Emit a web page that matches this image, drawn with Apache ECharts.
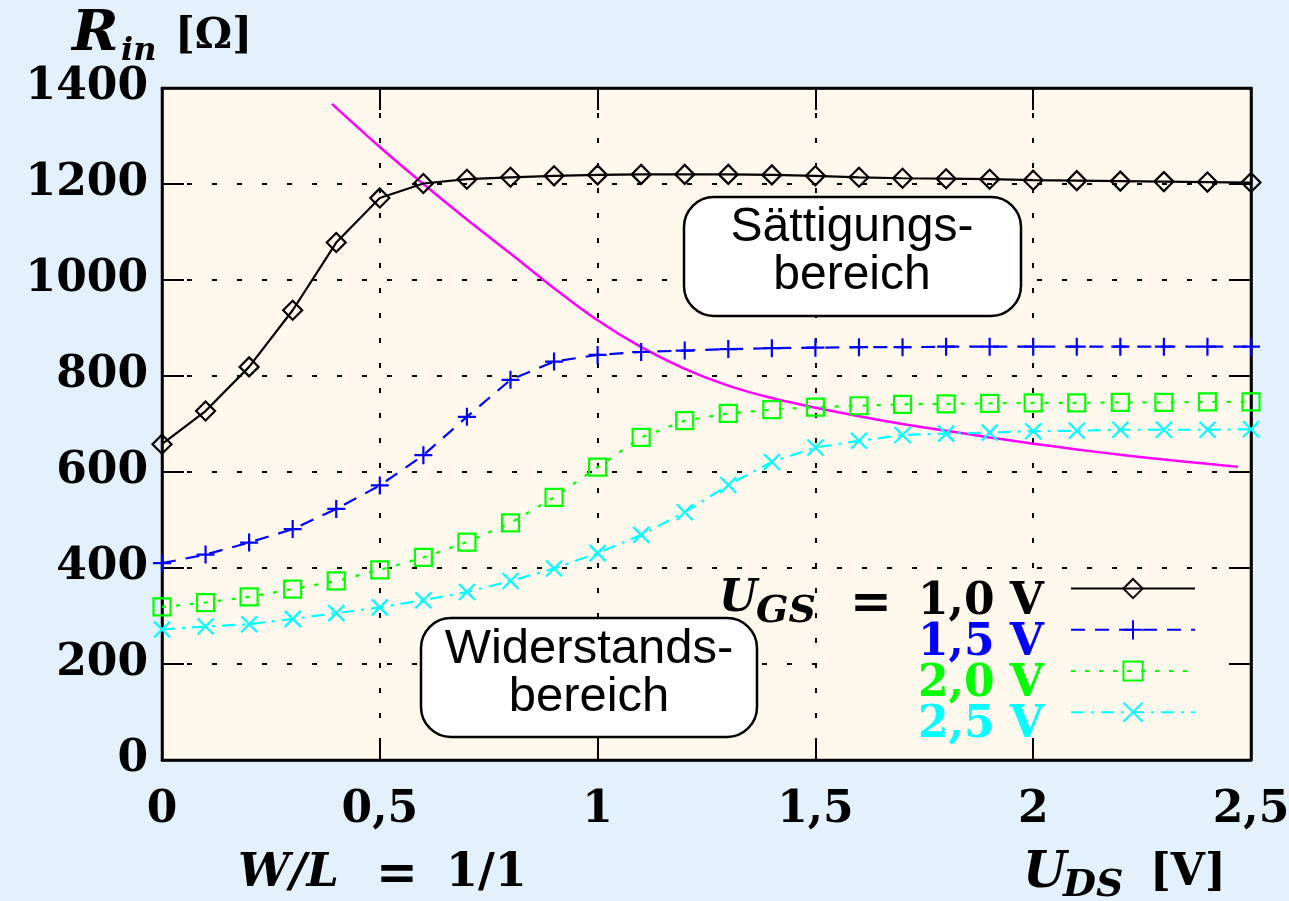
<!DOCTYPE html>
<html>
<head>
<meta charset="utf-8">
<script src="https://cdn.jsdelivr.net/npm/echarts@6/dist/echarts.min.js"></script>
<style>
  html, body { margin: 0; padding: 0; background: #e3f1fc; }
  #chart { width: 1289px; height: 901px; }
</style>
</head>
<body>
<div id="chart"></div>
<script>
// Drain-source voltage U_DS [V] at which R_in was evaluated
const uds = [0, 0.1, 0.2, 0.3, 0.4, 0.5, 0.6, 0.7, 0.8, 0.9, 1.0, 1.1, 1.2,
             1.3, 1.4, 1.5, 1.6, 1.7, 1.8, 1.9, 2.0, 2.1, 2.2, 2.3, 2.4, 2.5];

// Input resistance R_in [Ohm] for each gate-source voltage
const rinUgs10 = [658, 727, 819, 937, 1078, 1171, 1201, 1210, 1214, 1217, 1219, 1220, 1220,
                  1220, 1219, 1217, 1214, 1212, 1211, 1210, 1208, 1207, 1206, 1205, 1204, 1203];
const rinUgs15 = [410, 428, 453, 481, 523, 572, 635, 715, 792, 830, 844, 850, 853,
                  856, 858, 859, 860, 860, 861, 861, 861, 861, 861, 861, 861, 861];
const rinUgs20 = [319, 328, 340, 356, 373, 396, 422, 454, 494, 547, 610, 672, 707,
                  722, 730, 735, 738, 741, 742, 743, 744, 744, 745, 745, 746, 746];
const rinUgs25 = [272, 278, 283, 294, 306, 318, 333, 350, 373, 399, 431, 469, 516,
                  573, 621, 651, 665, 677, 680, 682, 685, 686, 688, 688, 688, 689];

// Boundary between the resistive and the saturation region
const boundaryUds = [0.39, 0.5, 0.6, 0.7, 0.8, 0.9, 1.0, 1.1, 1.2, 1.3, 1.4,
                     1.5, 1.6, 1.7, 1.8, 1.9, 2.0, 2.1, 2.2, 2.3, 2.4, 2.47];
const boundaryRin = [1367, 1277, 1200, 1126, 1055, 983, 916, 860, 815, 780, 754,
                     734, 716, 700, 686, 672, 659, 647, 636, 626, 617, 611];

// Axis ranges and tick steps
const xRange = [0, 2.5], xStep = 0.5;
const yRange = [0, 1400], yStep = 200;

// Gate-source voltages shown in the key, with their colours
const ugsLabels = ['1,0 V', '1,5 V', '2,0 V', '2,5 V'];
const ugsColors = ['#000000', '#0000ff', '#00ff00', '#00ffff'];

const SERIF = '"DejaVu Serif", serif';
const SANS = '"Liberation Sans", Arial, sans-serif';
const PLOT_BG = '#fef9ec';
const PAGE_BG = '#e3f1fc';

const plusPath = 'path://M0,9H18M9,0V18';
const crossPath = 'path://M0,0L18,18M0,18L18,0';

function pairs(xs, ys) { return xs.map((x, i) => [x, ys[i]]); }

function curve(idx, ys, dash, symbol, size) {
  const color = ugsColors[idx];
  return {
    name: ugsLabels[idx], type: 'line', data: pairs(uds, ys),
    symbol: symbol, symbolSize: size, showSymbol: true,
    itemStyle: { color: 'transparent', borderColor: color, borderWidth: 2.2 },
    lineStyle: { color: color, width: 2.2, type: dash },
    emphasis: { disabled: true }, z: 3, silent: true
  };
}

const chart = echarts.init(document.getElementById('chart'), null, { renderer: 'canvas' });

const numLabel = { fontFamily: SERIF, fontWeight: 'bold', fontSize: 44, color: '#000' };
const tickStyle = { show: true, inside: true, length: 22, lineStyle: { color: '#000', width: 2 } };
const frameLine = { show: true, onZero: false, lineStyle: { color: '#000', width: 2.5 } };
const gridDash = { show: true, lineStyle: { color: '#000', width: 2, type: [5, 20] } };
const commaFmt = v => String(v).replace('.', ',');

const boldItalic = { fontFamily: SERIF, fontWeight: 'bold', fontStyle: 'italic', fill: '#000',
                     align: 'left', verticalAlign: 'middle' };
const boldUpright = { fontFamily: SERIF, fontWeight: 'bold', fill: '#000',
                      align: 'left', verticalAlign: 'middle' };

function txt(x, y, text, base, size, extra) {
  return { type: 'text', silent: true, z: 6, x: x, y: y,
           style: Object.assign({}, base, { text: text, fontSize: size }, extra || {}) };
}

chart.setOption({
  animation: false,
  backgroundColor: PAGE_BG,
  grid: {
    left: 162, top: 88, right: 38, bottom: 141,
    show: true, backgroundColor: PLOT_BG, borderColor: '#000', borderWidth: 2.5,
    outerBoundsMode: 'none', containLabel: false
  },
  xAxis: [
    {
      type: 'value', min: xRange[0], max: xRange[1], interval: xStep, position: 'bottom',
      axisLine: frameLine, axisTick: tickStyle, splitLine: gridDash,
      axisLabel: Object.assign({ margin: 29, formatter: commaFmt, showMinLabel: true, showMaxLabel: true }, numLabel)
    },
    {
      type: 'value', min: xRange[0], max: xRange[1], interval: xStep, position: 'top',
      axisLine: frameLine, axisTick: tickStyle, splitLine: { show: false }, axisLabel: { show: false }
    }
  ],
  yAxis: [
    {
      type: 'value', min: yRange[0], max: yRange[1], interval: yStep, position: 'left',
      axisLine: frameLine, axisTick: tickStyle, splitLine: gridDash,
      axisLabel: Object.assign({ margin: 14, padding: [8, 0, 0, 0], formatter: v => String(v),
                                 showMinLabel: true, showMaxLabel: true }, numLabel)
    },
    {
      type: 'value', min: yRange[0], max: yRange[1], interval: yStep, position: 'right',
      axisLine: frameLine, axisTick: tickStyle, splitLine: { show: false }, axisLabel: { show: false }
    }
  ],
  legend: [
    // key samples: line style and marker of each curve
    {
      orient: 'vertical', right: 89, top: 578, padding: 0,
      itemGap: 20, itemWidth: 124, itemHeight: 24, selectedMode: false,
      data: ugsLabels, formatter: () => '',
      textStyle: { fontSize: 1, lineHeight: 1, padding: 0 }
    },
    // key labels, right aligned in front of the samples
    {
      orient: 'vertical', right: 240, top: 581, align: 'right', padding: 0, icon: 'none',
      itemGap: -3, itemWidth: 0, itemHeight: 0, selectedMode: false,
      data: ugsLabels.map((name, i) => ({ name: name, textStyle: { color: ugsColors[i] } })),
      textStyle: { fontFamily: SERIF, fontWeight: 'bold', fontSize: 44, lineHeight: 42, padding: 0 }
    }
  ],
  series: [
    curve(0, rinUgs10, 'solid', 'diamond', 19),
    curve(1, rinUgs15, [14, 10], plusPath, 18),
    curve(2, rinUgs20, [4, 10], 'rect', 17),
    curve(3, rinUgs25, [13, 7, 3, 7], crossPath, 16),
    {
      name: 'boundary', type: 'line', data: pairs(boundaryUds, boundaryRin),
      symbol: 'none', smooth: 0.25, lineStyle: { color: '#ff00ff', width: 2.5 },
      emphasis: { disabled: true }, z: 2, silent: true
    }
  ],
  graphic: [
    // key area hides the grid behind it
    { type: 'rect', z: 1, silent: true, shape: { x: 822, y: 572, width: 404, height: 164 }, style: { fill: PLOT_BG } },
    // region captions
    { type: 'rect', z: 5, silent: true, shape: { x: 684, y: 197, width: 337, height: 119, r: 30 },
      style: { fill: '#ffffff', stroke: '#000', lineWidth: 2.5 } },
    { type: 'text', z: 6, silent: true, x: 852, y: 252,
      style: { text: 'Sättigungs-\nbereich', fontFamily: SANS, fontSize: 48, lineHeight: 48,
               align: 'center', verticalAlign: 'middle', fill: '#000' } },
    { type: 'rect', z: 5, silent: true, shape: { x: 421, y: 618, width: 336, height: 119, r: 30 },
      style: { fill: '#ffffff', stroke: '#000', lineWidth: 2.5 } },
    { type: 'text', z: 6, silent: true, x: 589, y: 673,
      style: { text: 'Widerstands-\nbereich', fontFamily: SANS, fontSize: 49, lineHeight: 48,
               align: 'center', verticalAlign: 'middle', fill: '#000' } },
    // key heading U_GS =
    txt(719, 600, 'U', boldItalic, 44),
    txt(756, 612, 'GS', boldItalic, 38),
    txt(871, 605, '=', boldUpright, 50, { align: 'center' }),
    // y axis title R_in [Ω]
    txt(72, 35, 'R', boldItalic, 56),
    txt(121, 52, 'in', boldItalic, 32),
    txt(175, 37, '[Ω]', boldUpright, 42),
    // x axis titles
    txt(238, 874, 'W/L', boldItalic, 46),
    txt(397, 876, '=', boldUpright, 50, { align: 'center' }),
    txt(446, 874, '1/1', boldUpright, 46),
    txt(1023, 874, 'U', boldItalic, 50),
    txt(1063, 886, 'DS', boldItalic, 38),
    txt(1150, 874, '[V]', boldUpright, 44)
  ]
});
</script>
</body>
</html>
